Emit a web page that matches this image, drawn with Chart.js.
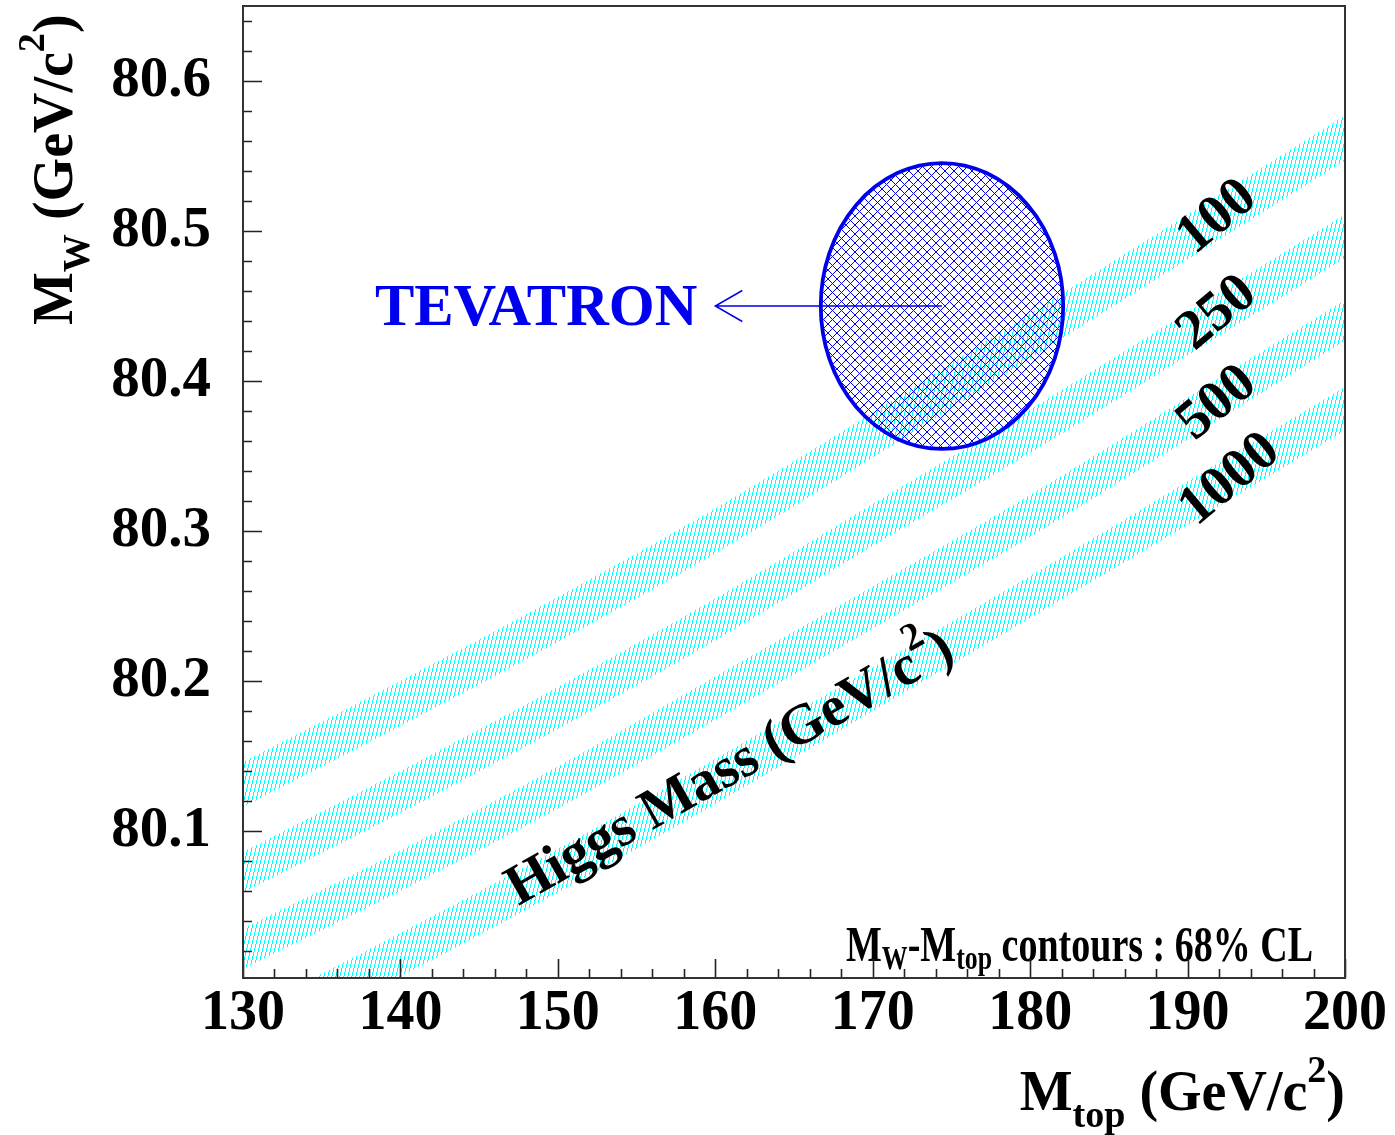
<!DOCTYPE html>
<html>
<head>
<meta charset="utf-8">
<title>M_W vs M_top</title>
<script src="https://cdn.jsdelivr.net/npm/chart.js@4.4.0/dist/chart.umd.min.js"></script>
<style>
  html, body { margin: 0; padding: 0; background: #fff; }
  #wrap { width: 1395px; height: 1135px; }
</style>
</head>
<body>
<div id="wrap"><canvas id="c" width="1395" height="1135"></canvas></div>
<script>
// ---- data -------------------------------------------------------------
// Top-quark mass grid (GeV/c^2) at which the SM W-mass bands are given
const mtopGrid = [130, 140, 150, 160, 170, 180, 190, 200];

// SM prediction bands of M_W (GeV/c^2) for four Higgs masses: upper / lower edge
const higgsMasses = ['100', '250', '500', '1000'];
const mwH100Upper  = [80.146, 80.200, 80.256, 80.315, 80.379, 80.445, 80.511, 80.577];
const mwH100Lower  = [80.116, 80.170, 80.226, 80.285, 80.349, 80.415, 80.481, 80.547];
const mwH250Upper  = [80.086, 80.140, 80.196, 80.255, 80.318, 80.381, 80.446, 80.511];
const mwH250Lower  = [80.059, 80.112, 80.168, 80.227, 80.290, 80.352, 80.417, 80.482];
const mwH500Upper  = [80.035, 80.087, 80.143, 80.203, 80.263, 80.324, 80.389, 80.454];
const mwH500Lower  = [80.008, 80.060, 80.115, 80.174, 80.235, 80.296, 80.361, 80.427];
const mwH1000Upper = [79.978, 80.032, 80.088, 80.148, 80.209, 80.270, 80.333, 80.396];
const mwH1000Lower = [79.950, 80.003, 80.059, 80.118, 80.180, 80.242, 80.304, 80.367];

// Where each Higgs-mass label sits (mtop, mw)
const higgsLabelMtop = [191.9, 191.9, 191.9, 192.7];
const higgsLabelMw   = [80.509, 80.445, 80.385, 80.334];

// Tevatron 68% CL contour: centre and half-axes
const tevatronMtop = 174.4;
const tevatronMw = 80.450;
const tevatronMtopHalf = 7.7;
const tevatronMwHalf = 0.0953;
const tevatronArrowTipMtop = 160.0;

// Axis ticks
const xTickValues = [130, 140, 150, 160, 170, 180, 190, 200];
const xTickLabels = ['130', '140', '150', '160', '170', '180', '190', '200'];
const yTickValues = [80.1, 80.2, 80.3, 80.4, 80.5, 80.6];
const yTickLabels = ['80.1', '80.2', '80.3', '80.4', '80.5', '80.6'];
const xRange = [130, 200];
const yRange = [80.002, 80.65];

// ---- styling helpers --------------------------------------------------
const SERIF = "'Liberation Serif', 'Times New Roman', serif";
const BLUE = '#0000ee';
const CYAN = '#00ffff';

// single-hatch fill: crisp 1px steep cyan lines, 4px apart
function hatchPattern() {
  const w = 4, h = 16;
  const t = document.createElement('canvas');
  t.width = w; t.height = h;
  const g = t.getContext('2d');
  g.fillStyle = CYAN;
  for (let r = 0; r < h; r++) {
    g.fillRect(Math.floor((h - 1 - r) / 4), r, 1, 1);
  }
  return g.createPattern(t, 'repeat');
}

// cross-hatch fill for the contour: crisp 1px diagonals
function crossPattern() {
  const s = 9;
  const t = document.createElement('canvas');
  t.width = s; t.height = s;
  const g = t.getContext('2d');
  g.fillStyle = BLUE;
  for (let i = 0; i < s; i++) {
    g.fillRect(i, i, 1, 1);
    g.fillRect(i, s - 1 - i, 1, 1);
  }
  return g.createPattern(t, 'repeat');
}

// Text made of normal / sub / sup pieces, drawn from a left baseline point
function segSize(kind, size) { return kind === 'n' ? size : size * 0.68; }
function segShift(kind, size) {
  if (kind === 'sub') return size * 0.3;
  if (kind === 'sub2') return size * 0.15;
  if (kind === 'sup') return -size * 0.5;
  return 0;
}
function richWidth(ctx, segs, size) {
  let w = 0;
  for (const [txt, kind] of segs) {
    ctx.font = `bold ${segSize(kind, size)}px ${SERIF}`;
    w += ctx.measureText(txt).width;
  }
  return w;
}
function drawRich(ctx, segs, x, y, size) {
  let cx = x;
  for (const [txt, kind] of segs) {
    ctx.font = `bold ${segSize(kind, size)}px ${SERIF}`;
    ctx.fillText(txt, cx, y + segShift(kind, size));
    cx += ctx.measureText(txt).width;
  }
}

function bandData(values) {
  return mtopGrid.map((m, i) => ({ x: m, y: values[i] }));
}

const hatch = hatchPattern();
const bandPairs = [
  [mwH100Upper, mwH100Lower],
  [mwH250Upper, mwH250Lower],
  [mwH500Upper, mwH500Lower],
  [mwH1000Upper, mwH1000Lower]
];
const datasets = [];
bandPairs.forEach(([up, lo], i) => {
  const common = {
    pointRadius: 0, borderWidth: 0, borderColor: 'rgba(0,0,0,0)',
    cubicInterpolationMode: 'monotone'
  };
  datasets.push({ ...common, label: 'MH ' + higgsMasses[i] + ' upper', data: bandData(up),
                  fill: '+1', backgroundColor: hatch });
  datasets.push({ ...common, label: 'MH ' + higgsMasses[i] + ' lower', data: bandData(lo),
                  fill: false });
});

// ---- overlay: Tevatron contour, labels, frame --------------------------
const overlay = {
  id: 'overlay',
  afterDatasetsDraw(chart) {
    const { ctx, chartArea: a, scales: { x, y } } = chart;
    ctx.save();

    // Tevatron ellipse
    const cx = x.getPixelForValue(tevatronMtop);
    const cy = y.getPixelForValue(tevatronMw);
    const rx = x.getPixelForValue(tevatronMtop + tevatronMtopHalf) - cx;
    const ry = cy - y.getPixelForValue(tevatronMw + tevatronMwHalf);
    ctx.beginPath();
    ctx.ellipse(cx, cy, rx, ry, 0, 0, Math.PI * 2);
    ctx.fillStyle = crossPattern();
    ctx.fill();
    ctx.lineWidth = 3.8;
    ctx.strokeStyle = BLUE;
    ctx.stroke();

    // Arrow to the label
    const tip = x.getPixelForValue(tevatronArrowTipMtop);
    ctx.lineWidth = 1.5;
    ctx.beginPath();
    ctx.moveTo(cx, cy); ctx.lineTo(tip, cy);
    ctx.moveTo(tip + 27, cy - 15.5); ctx.lineTo(tip, cy); ctx.lineTo(tip + 27, cy + 15.5);
    ctx.stroke();

    ctx.fillStyle = BLUE;
    ctx.font = `bold 59px ${SERIF}`;
    ctx.textAlign = 'right';
    ctx.textBaseline = 'alphabetic';
    ctx.fillText('TEVATRON', tip - 18, cy + 19);

    // Higgs mass labels
    ctx.fillStyle = '#000';
    ctx.textAlign = 'center';
    ctx.textBaseline = 'middle';
    higgsMasses.forEach((m, i) => {
      ctx.save();
      ctx.translate(x.getPixelForValue(higgsLabelMtop[i]), y.getPixelForValue(higgsLabelMw[i]));
      ctx.rotate(-40 * Math.PI / 180);
      ctx.font = `bold 56px ${SERIF}`;
      ctx.fillText(m, 0, 0);
      ctx.restore();
    });

    // "Higgs Mass (GeV/c^2)" along the lowest band
    ctx.save();
    ctx.textAlign = 'left';
    ctx.textBaseline = 'alphabetic';
    ctx.translate(x.getPixelForValue(147.5), y.getPixelForValue(80.05));
    ctx.rotate(-29.5 * Math.PI / 180);
    drawRich(ctx, [['Higgs Mass (GeV/c', 'n'], ['2', 'sup'], [')', 'n']], 0, 0, 57);
    ctx.restore();

    // CL note, condensed serif
    ctx.save();
    ctx.textAlign = 'left';
    ctx.textBaseline = 'alphabetic';
    const note = [['M', 'n'], ['W', 'sub2'], ['-M', 'n'], ['top', 'sub2'], [' contours : 68% CL', 'n']];
    const noteW = richWidth(ctx, note, 50);
    ctx.translate(846, 961);
    ctx.scale(467 / noteW, 1);
    drawRich(ctx, note, 0, 0, 50);
    ctx.restore();

    // Ticks (inside the frame) and frame
    ctx.strokeStyle = '#222';
    ctx.lineWidth = 1.6;
    ctx.beginPath();
    for (let v = xRange[0]; v <= xRange[1] + 1e-9; v += 2) {
      const px = Math.round(x.getPixelForValue(v)) + 0.5;
      const major = xTickValues.some(t => Math.abs(t - v) < 1e-6);
      ctx.moveTo(px, a.bottom); ctx.lineTo(px, a.bottom - (major ? 19 : 9));
    }
    for (let k = 1; k <= 32; k++) {
      const v = 80 + k * 0.02;
      if (v > yRange[1]) break;
      const py = Math.round(y.getPixelForValue(v)) + 0.5;
      const major = yTickValues.some(t => Math.abs(t - v) < 1e-6);
      ctx.moveTo(a.left, py); ctx.lineTo(a.left + (major ? 19 : 9), py);
    }
    ctx.stroke();
    ctx.lineWidth = 2;
    ctx.strokeStyle = '#333';
    ctx.strokeRect(a.left, a.top, a.right - a.left, a.bottom - a.top);

    // Axis titles
    ctx.fillStyle = '#000';
    ctx.textAlign = 'left';
    ctx.textBaseline = 'alphabetic';
    const xt = [['M', 'n'], ['top', 'sub'], [' (GeV/c', 'n'], ['2', 'sup'], [')', 'n']];
    drawRich(ctx, xt, a.right - richWidth(ctx, xt, 56), 1110, 56);
    const yt = [['M', 'n'], ['W', 'sub'], [' (GeV/c', 'n'], ['2', 'sup'], [')', 'n']];
    ctx.save();
    ctx.translate(72, 325);
    ctx.rotate(-Math.PI / 2);
    drawRich(ctx, yt, 0, 0, 56);
    ctx.restore();

    ctx.restore();
  }
};

new Chart(document.getElementById('c'), {
  type: 'line',
  data: { datasets },
  options: {
    responsive: false,
    animation: false,
    devicePixelRatio: 1,
    layout: { padding: { top: 6, right: 50, left: 0, bottom: 0 } },
    plugins: { legend: { display: false }, tooltip: { enabled: false } },
    scales: {
      x: {
        type: 'linear', min: xRange[0], max: xRange[1],
        grid: { display: false, drawTicks: false },
        border: { display: false },
        afterFit(s) { s.height = 157; s.paddingLeft = 0; s.paddingRight = 0; },
        afterBuildTicks(s) { s.ticks = xTickValues.map(v => ({ value: v })); },
        ticks: {
          padding: 3, color: '#000', maxRotation: 0, autoSkip: false,
          font: { family: SERIF, weight: 'bold', size: 56 },
          callback: (v) => xTickLabels[xTickValues.indexOf(v)] ?? ''
        }
      },
      y: {
        type: 'linear', min: yRange[0], max: yRange[1],
        grid: { display: false, drawTicks: false },
        border: { display: false },
        afterFit(s) { s.width = 243; s.paddingTop = 0; s.paddingBottom = 0; },
        afterBuildTicks(s) { s.ticks = yTickValues.map(v => ({ value: v })); },
        ticks: {
          padding: 32, color: '#000', autoSkip: false,
          font: { family: SERIF, weight: 'bold', size: 57 },
          callback: (v) => {
            const i = yTickValues.findIndex(t => Math.abs(t - v) < 1e-9);
            return i >= 0 ? yTickLabels[i] : '';
          }
        }
      }
    }
  },
  plugins: [overlay]
});
</script>
</body>
</html>
